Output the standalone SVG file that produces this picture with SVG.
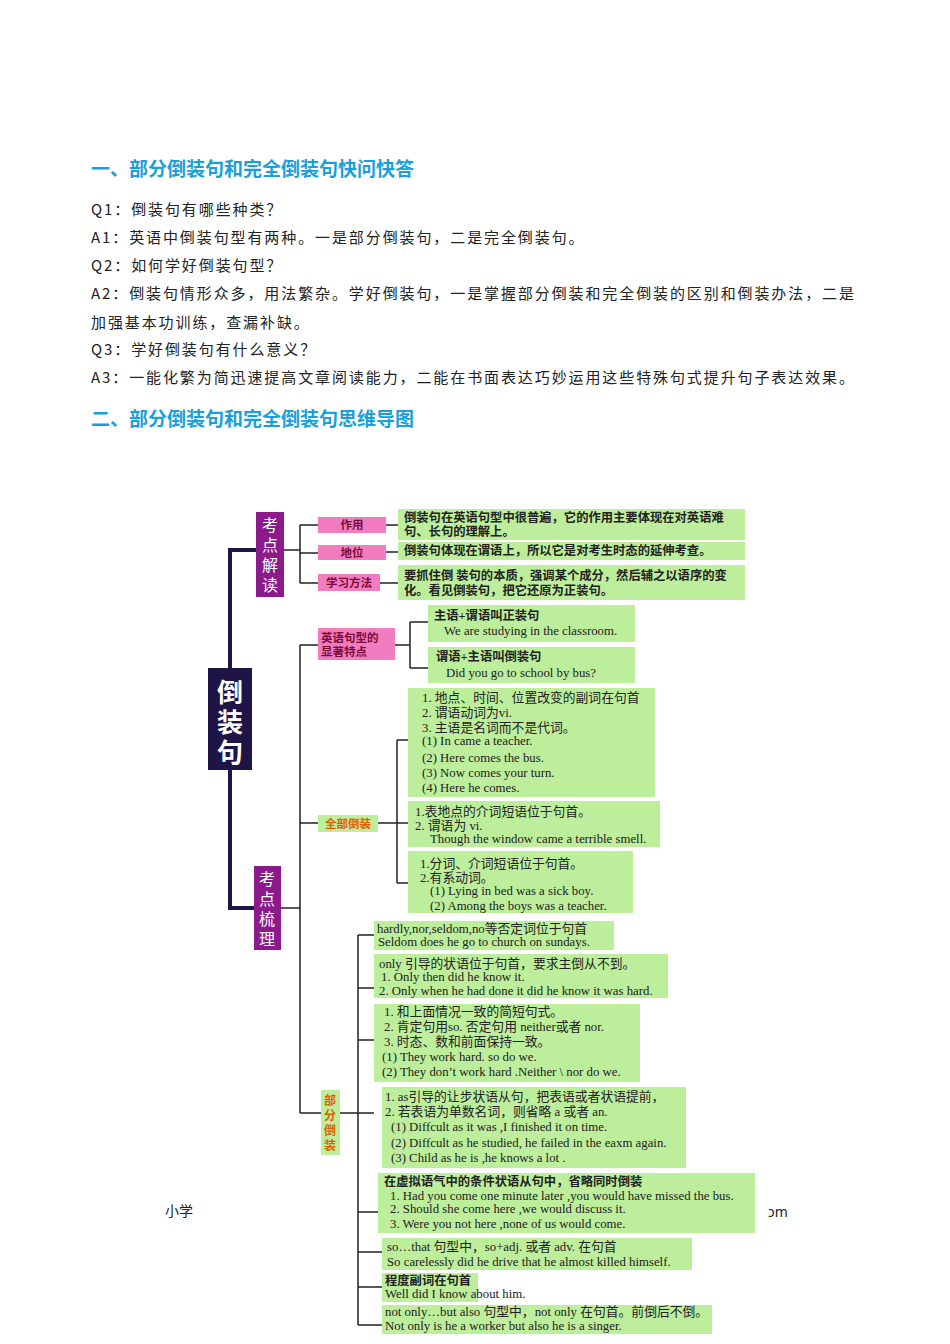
<svg xmlns="http://www.w3.org/2000/svg" width="950" height="1344" viewBox="0 0 950 1344">
<style>
.h{font-family:"Noto Sans CJK SC","Noto Sans",sans-serif;font-weight:bold;font-size:19px;fill:#1aa0d8}
.b{font-family:"Noto Sans CJK SC",sans-serif;font-size:15px;letter-spacing:1.9px;fill:#222}
.g{fill:#bdee9c}
.t{font-family:"Liberation Serif","Noto Sans CJK SC",serif;font-size:12.8px;fill:#222}
.tb{font-family:"Liberation Serif","Noto Sans CJK SC",serif;font-size:12.3px;fill:#222;font-weight:bold}
.pk{fill:#f27cc0}
.pt{font-family:"Noto Sans CJK SC",serif;font-size:11.5px;fill:#7a0a3a;font-weight:bold}
.ln{stroke:#222;stroke-width:1.5;fill:none}
.tk{stroke:#1e1446;stroke-width:4;fill:none}
.v{font-family:"Noto Sans CJK SC",sans-serif;font-size:16px;fill:#fff}
</style>
<rect width="950" height="1344" fill="#fff"/>
<text class="h" x="91" y="176">一、部分倒装句和完全倒装句快问快答</text>
<text class="b" x="91" y="215">Q1：倒装句有哪些种类？</text>
<text class="b" x="91" y="243">A1：英语中倒装句型有两种。一是部分倒装句，二是完全倒装句。</text>
<text class="b" x="91" y="271">Q2：如何学好倒装句型？</text>
<text class="b" x="91" y="299">A2：倒装句情形众多，用法繁杂。学好倒装句，一是掌握部分倒装和完全倒装的区别和倒装办法，二是</text>
<text class="b" x="91" y="328">加强基本功训练，查漏补缺。</text>
<text class="b" x="91" y="355">Q3：学好倒装句有什么意义？</text>
<text class="b" x="91" y="383">A3：一能化繁为简迅速提高文章阅读能力，二能在书面表达巧妙运用这些特殊句式提升句子表达效果。</text>
<text class="h" x="91" y="426">二、部分倒装句和完全倒装句思维导图</text>

<g id="connectors">
<path class="tk" d="M230 668V550H256M230 770V908H254"/>
<path class="ln" d="M284 550H300M300 525V583M300 525H318M300 553H318M300 583H318M386 525H398M386 552H398M380 583H398"/>
<path class="ln" d="M281 908H300M300 645V1113M300 645H318M300 823H318M300 1113H321"/>
<path class="ln" d="M395 645H410M410 622V668M410 622H428M410 668H428"/>
<path class="ln" d="M378 823H408M397 740V883M397 740H408M397 883H408"/>
<path class="ln" d="M340 1113H374M358 935V1325M358 935H374M358 988H374M358 1040H374M358 1212H378M358 1252H382M358 1287H382M358 1325H382"/>
</g>

<g id="root"><rect x="208" y="668" width="44" height="102" fill="#1e1446"/>
<text x="230" y="702" text-anchor="middle" font-family="Noto Sans CJK SC,sans-serif" font-weight="bold" font-size="26" fill="#fff">倒</text>
<text x="230" y="732" text-anchor="middle" font-family="Noto Sans CJK SC,sans-serif" font-weight="bold" font-size="26" fill="#fff">装</text>
<text x="230" y="762" text-anchor="middle" font-family="Noto Sans CJK SC,sans-serif" font-weight="bold" font-size="26" fill="#fff">句</text></g>

<g id="kdjd"><rect x="256" y="512" width="28" height="85" fill="#8b1a8b"/>
<text class="v" text-anchor="middle"><tspan x="270" y="531">考</tspan><tspan x="270" y="551">点</tspan><tspan x="270" y="571">解</tspan><tspan x="270" y="591">读</tspan></text></g>
<g id="kdsl"><rect x="254" y="866" width="27" height="84" fill="#8b1a8b"/>
<text class="v" text-anchor="middle"><tspan x="267" y="885">考</tspan><tspan x="267" y="905">点</tspan><tspan x="267" y="925">梳</tspan><tspan x="267" y="945">理</tspan></text></g>

<g id="zy"><rect class="pk" x="318" y="517" width="68" height="16"/><text class="pt" x="352" y="529" text-anchor="middle">作用</text></g>
<g id="dw"><rect class="pk" x="318" y="545" width="68" height="15"/><text class="pt" x="352" y="557" text-anchor="middle">地位</text></g>
<g id="xxff"><rect class="pk" x="318" y="574" width="62" height="17"/><text class="pt" x="349" y="587" text-anchor="middle">学习方法</text></g>
<g id="g1"><rect class="g" x="398" y="509" width="347" height="31"/><text class="tb" x="404" y="522">倒装句在英语句型中很普遍，它的作用主要体现在对英语难</text><text class="tb" x="404" y="536">句、长句的理解上。</text></g>
<g id="g2"><rect class="g" x="398" y="542" width="347" height="18"/><text class="tb" x="404" y="555">倒装句体现在谓语上，所以它是对考生时态的延伸考查。</text></g>
<g id="g3"><rect class="g" x="398" y="565" width="347" height="35"/><text class="tb" x="404" y="580">要抓住倒 装句的本质，强调某个成分，然后辅之以语序的变</text><text class="tb" x="404" y="595">化。看见倒装句，把它还原为正装句。</text></g>

<g id="yyjx"><rect class="pk" x="318" y="628" width="77" height="32"/><text class="pt" x="321" y="642">英语句型的</text><text class="pt" x="321" y="656">显著特点</text></g>
<g id="qbdz"><rect class="g" x="318" y="815" width="60" height="17"/><text class="pt" x="348" y="828" text-anchor="middle" style="fill:#e06000">全部倒装</text></g>
<g id="bfdz"><rect class="g" x="321" y="1090" width="19" height="65"/><text font-family="Noto Sans CJK SC,sans-serif" font-weight="bold" font-size="12" fill="#e06000" text-anchor="middle"><tspan x="330" y="1105">部</tspan><tspan x="330" y="1120">分</tspan><tspan x="330" y="1135">倒</tspan><tspan x="330" y="1150">装</tspan></text></g>

<g id="e1"><rect class="g" x="428" y="605" width="207" height="37"/><text class="tb" x="434" y="620">主语+谓语叫正装句</text><text class="t" x="444" y="635">We are studying in the classroom.</text></g>
<g id="e2"><rect class="g" x="428" y="647" width="207" height="36"/><text class="tb" x="436" y="661">谓语+主语叫倒装句</text><text class="t" x="446" y="677">Did you go to school by bus?</text></g>

<g id="q1"><rect class="g" x="408" y="688" width="247" height="109"/>
<text class="t" x="422" y="702">1. 地点、时间、位置改变的副词在句首</text>
<text class="t" x="422" y="717">2. 谓语动词为vi.</text>
<text class="t" x="422" y="732">3. 主语是名词而不是代词。</text>
<text class="t" x="422" y="745">(1) In came a teacher.</text>
<text class="t" x="422" y="762">(2) Here comes the bus.</text>
<text class="t" x="422" y="777">(3) Now comes your turn.</text>
<text class="t" x="422" y="792">(4) Here he comes.</text></g>
<g id="q2"><rect class="g" x="408" y="801" width="252" height="46"/>
<text class="t" x="415" y="816">1.表地点的介词短语位于句首。</text>
<text class="t" x="415" y="830">2. 谓语为 vi.</text>
<text class="t" x="430" y="843">Though the window came a terrible smell.</text></g>
<g id="q3"><rect class="g" x="408" y="851" width="225" height="62"/>
<text class="t" x="420" y="868">1.分词、介词短语位于句首。</text>
<text class="t" x="420" y="882">2.有系动词。</text>
<text class="t" x="430" y="895">(1) Lying in bed was a sick boy.</text>
<text class="t" x="430" y="910">(2) Among the boys was a teacher.</text></g>

<g id="p1"><rect class="g" x="374" y="921" width="240" height="29"/>
<text class="t" x="377" y="933">hardly,nor,seldom,no等否定词位于句首</text>
<text class="t" x="378" y="946">Seldom does he go to church on sundays.</text></g>
<g id="p2"><rect class="g" x="374" y="954" width="294" height="44"/>
<text class="t" x="379" y="968">only 引导的状语位于句首，要求主倒从不到。</text>
<text class="t" x="381" y="981">1. Only then did he know it.</text>
<text class="t" x="379" y="995">2. Only when he had done it did he know it was hard.</text></g>
<g id="p3"><rect class="g" x="374" y="1004" width="266" height="78"/>
<text class="t" x="384" y="1016">1. 和上面情况一致的简短句式。</text>
<text class="t" x="384" y="1031">2. 肯定句用so. 否定句用 neither或者 nor.</text>
<text class="t" x="384" y="1046">3. 时态、数和前面保持一致。</text>
<text class="t" x="382" y="1061">(1) They work hard. so do we.</text>
<text class="t" x="382" y="1076">(2) They don’t work hard .Neither \ nor do we.</text></g>
<g id="p4"><rect class="g" x="382" y="1087" width="304" height="81"/>
<text class="t" x="385" y="1101">1. as引导的让步状语从句，把表语或者状语提前，</text>
<text class="t" x="385" y="1116">2. 若表语为单数名词，则省略 a 或者 an.</text>
<text class="t" x="391" y="1131">(1) Diffcult as it was ,I finished it on time.</text>
<text class="t" x="391" y="1147">(2) Diffcult as he studied, he failed in the eaxm again.</text>
<text class="t" x="391" y="1162">(3) Child as he is ,he knows a lot .</text></g>
<g id="p5"><rect class="g" x="378" y="1173" width="377" height="60"/>
<text class="tb" x="384" y="1186">在虚拟语气中的条件状语从句中，省略同时倒装</text>
<text class="t" x="390" y="1200">1.  Had you come one minute later ,you would have missed the bus.</text>
<text class="t" x="390" y="1213">2.  Should she come here ,we would discuss it.</text>
<text class="t" x="390" y="1228">3.  Were you not here ,none of  us would come.</text></g>
<g id="p6"><rect class="g" x="382" y="1238" width="310" height="32"/>
<text class="t" x="387" y="1251">so…that 句型中，so+adj. 或者 adv. 在句首</text>
<text class="t" x="387" y="1266">So carelessly did he drive that he almost killed himself.</text></g>
<g id="p7"><rect class="g" x="382" y="1273" width="96" height="29"/>
<text class="tb" x="385" y="1285">程度副词在句首</text>
<text class="t" x="385" y="1298">Well did I know about him.</text></g>
<g id="p8"><rect class="g" x="382" y="1305" width="330" height="29"/>
<text class="t" x="385" y="1316">not only…but also 句型中，not only 在句首。前倒后不倒。</text>
<text class="t" x="385" y="1330">Not only is  he  a worker but also he is a singer.</text></g>

<text x="165" y="1216" font-family="Noto Sans CJK SC,sans-serif" font-size="14" fill="#222">小学</text>
<text x="768" y="1217" font-family="Noto Sans,sans-serif" font-size="14" fill="#222">ɔm</text>
</svg>
